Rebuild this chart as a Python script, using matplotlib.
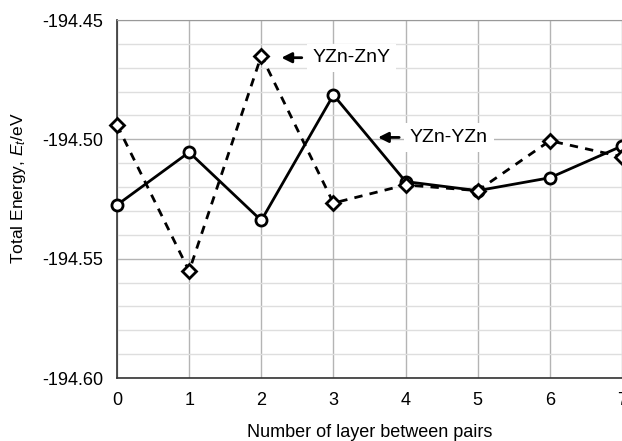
import numpy as np
import matplotlib
matplotlib.use('Agg')
import matplotlib.pyplot as plt
from matplotlib.ticker import MultipleLocator, FormatStrFormatter

plt.rcParams['font.family'] = ['Liberation Sans', 'DejaVu Sans']
plt.rcParams['mathtext.fontset'] = 'custom'
plt.rcParams['mathtext.rm'] = 'Liberation Sans'
plt.rcParams['mathtext.it'] = 'Liberation Sans:italic'

# data
layers = [0, 1, 2, 3, 4, 5, 6, 7]
yzn_yzn = [-194.5275, -194.5054, -194.5340, -194.4814, -194.5177, -194.5215, -194.5161, -194.5028]
yzn_zny = [-194.4940, -194.5552, -194.4650, -194.5267, -194.5191, -194.5215, -194.5006, -194.5073]

fig = plt.figure(figsize=(6.22, 4.41), dpi=100)
ax = fig.add_axes([117/622, 1 - 378/441, (622 - 117)/622, (378 - 20)/441])

ax.plot(layers, yzn_yzn, '-', color='black', lw=2.0, marker='o', ms=8,
        mfc='white', mec='black', mew=2.0, clip_on=False, zorder=5)
ax.plot(layers, yzn_zny, color='black', lw=2.0, ls=(0, (3, 2.6)), marker='D', ms=7,
        mfc='white', mec='black', mew=2.0, clip_on=False, zorder=6)

ax.set_xlim(0, 7)
ax.set_ylim(-194.60, -194.45)
ax.xaxis.set_major_locator(MultipleLocator(1))
ax.yaxis.set_major_locator(MultipleLocator(0.05))
ax.yaxis.set_minor_locator(MultipleLocator(0.01))
ax.yaxis.set_major_formatter(FormatStrFormatter('%.2f'))

ax.grid(which='major', color='#b4b4b4', lw=1.0)
ax.grid(which='minor', axis='y', color='#dedede', lw=1.0)
ax.set_axisbelow(True)
ax.tick_params(which='both', length=0, labelsize=13, pad=10, colors='black')

for s in ['left', 'bottom']:
    ax.spines[s].set_color('#333333')
    ax.spines[s].set_linewidth(1.2)
ax.spines['top'].set_color('#999999')
ax.spines['right'].set_visible(False)

ax.set_xlabel('Number of layer between pairs', fontsize=13, labelpad=11)
ax.set_ylabel('Total Energy, $E_t$/eV', fontsize=12.5)
ax.yaxis.set_label_coords(-0.176, 0.531)

# labels with arrows
ax.annotate('', xy=(2.24, -194.4658), xytext=(2.60, -194.4658),
            arrowprops=dict(arrowstyle='-|>', color='black', lw=2, mutation_scale=15))
ax.text(2.71, -194.4658, 'YZn-ZnY', fontsize=14, ha='left', va='center', zorder=3,
        bbox=dict(facecolor='white', edgecolor='none', pad=4))
ax.annotate('', xy=(3.58, -194.4992), xytext=(3.95, -194.4992),
            arrowprops=dict(arrowstyle='-|>', color='black', lw=2, mutation_scale=15))
ax.text(4.06, -194.4992, 'YZn-YZn', fontsize=14, ha='left', va='center', zorder=3,
        bbox=dict(facecolor='white', edgecolor='none', pad=4))

fig.savefig('out.png', dpi=100)
